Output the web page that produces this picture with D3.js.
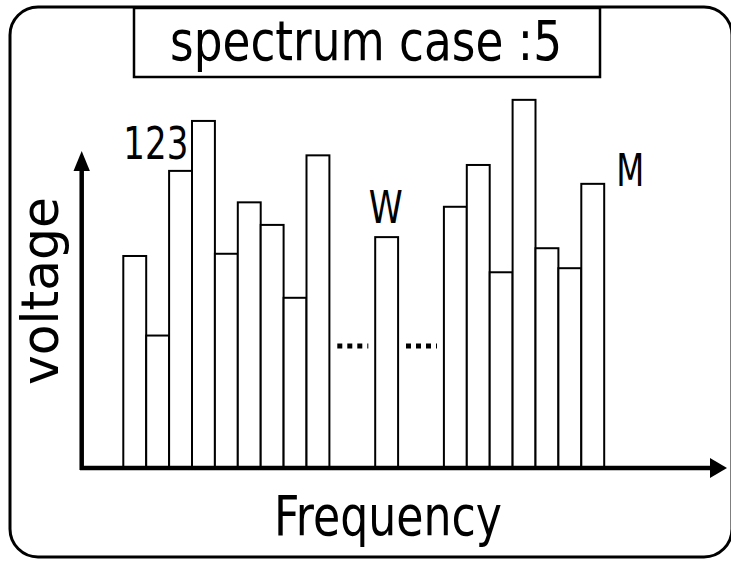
<!DOCTYPE html>
<html>
<head>
<meta charset="utf-8">
<script src="https://cdn.jsdelivr.net/npm/d3@7"></script>
<style>
  html, body { margin: 0; padding: 0; background: #fff; }
  svg { display: block; }
  text { font-family: "DejaVu Sans Condensed", "DejaVu Sans", sans-serif; fill: #000; }
</style>
</head>
<body>
<script>
// ---- data ----
const slots = d3.range(21);                       // frequency bins (some hidden by the "..." gaps)
const voltages = [57.3, 35.8, 80.3, 93.8, 57.9, 71.8, 65.7, 46.0, 84.5,
                  null, null, 62.4, null, null,
                  70.6, 81.9, 52.9, 99.5, 59.4, 54.0, 76.8];
const gapAfter = [9, 12];                          // "..." dotted gaps start at these slots
const binLabels = [
  { text: "123", slot: 0, anchor: "start" },
  { text: "W", slot: 11, anchor: "middle" },
  { text: "M", slot: 20, anchor: "start" }
];
const titleText = "spectrum case :5";
const xTitle = "Frequency";
const yTitle = "voltage";

// ---- layout ----
const W = 731, H = 561;
const svg = d3.select("body").append("svg").attr("width", W).attr("height", H);

const x = d3.scaleBand().domain(slots).range([123.3, 604.2]).padding(0);
const y = d3.scaleLinear().domain([0, 100]).range([468, 98]);

// outer rounded frame
svg.append("rect")
  .attr("x", 10).attr("y", 7).attr("width", 722).attr("height", 550)
  .attr("rx", 28).attr("ry", 28)
  .attr("fill", "none").attr("stroke", "#000").attr("stroke-width", 3);

// title box
svg.append("rect")
  .attr("x", 134).attr("y", 8).attr("width", 466).attr("height", 69)
  .attr("fill", "#fff").attr("stroke", "#000").attr("stroke-width", 2.5);
svg.append("text")
  .attr("x", 366).attr("y", 60).attr("text-anchor", "middle")
  .attr("font-size", 55)
  .attr("textLength", 392).attr("lengthAdjust", "spacingAndGlyphs")
  .text(titleText);

// bars
const data = slots.map(i => ({ slot: i, v: voltages[i] })).filter(d => d.v != null);
svg.append("g").selectAll("rect").data(data).join("rect")
  .attr("x", d => x(d.slot))
  .attr("y", d => y(d.v))
  .attr("width", x.bandwidth())
  .attr("height", d => y(0) - y(d.v))
  .attr("fill", "#fff").attr("stroke", "#000").attr("stroke-width", 2);

// dotted gaps
svg.append("g").selectAll("line").data(gapAfter).join("line")
  .attr("x1", d => x(d) + x.bandwidth() - 15)
  .attr("x2", d => x(d) + x.bandwidth() + 16)
  .attr("y1", y(0) - 122).attr("y2", y(0) - 122)
  .attr("stroke", "#000").attr("stroke-width", 5).attr("stroke-dasharray", "5,5");

// axes
const x0 = 80, axY = y(0);
svg.append("line")
  .attr("x1", x0).attr("x2", 712).attr("y1", axY).attr("y2", axY)
  .attr("stroke", "#000").attr("stroke-width", 4.5);
svg.append("path")
  .attr("d", `M727,${axY} L710,${axY - 10} L710,${axY + 10} Z`).attr("fill", "#000");
svg.append("line")
  .attr("x1", 81.7).attr("x2", 81.7).attr("y1", axY + 2).attr("y2", 166)
  .attr("stroke", "#000").attr("stroke-width", 4.5);
svg.append("path")
  .attr("d", `M81.7,151 L73.5,171 L89.9,171 Z`).attr("fill", "#000");

// bin labels
svg.append("text").attr("x", x(0)).attr("y", 159).attr("font-size", 45)
  .attr("textLength", 65).attr("lengthAdjust", "spacingAndGlyphs").text(binLabels[0].text);
svg.append("text").attr("x", x(11) + x.bandwidth() / 2 - 1).attr("y", 223)
  .attr("text-anchor", "middle").attr("font-size", 45)
  .attr("textLength", 34).attr("lengthAdjust", "spacingAndGlyphs").text(binLabels[1].text);
svg.append("text").attr("x", x(20) + x.bandwidth() + 12).attr("y", 186)
  .attr("font-size", 45)
  .attr("textLength", 28).attr("lengthAdjust", "spacingAndGlyphs").text(binLabels[2].text);

// axis titles
svg.append("text").attr("x", 388).attr("y", 535).attr("text-anchor", "middle")
  .attr("font-size", 55)
  .attr("textLength", 228).attr("lengthAdjust", "spacingAndGlyphs").text(xTitle);
svg.append("text")
  .attr("transform", "translate(58,291) rotate(-90)")
  .attr("text-anchor", "middle").attr("font-size", 51)
  .attr("textLength", 188).attr("lengthAdjust", "spacingAndGlyphs").text(yTitle);
</script>
</body>
</html>
